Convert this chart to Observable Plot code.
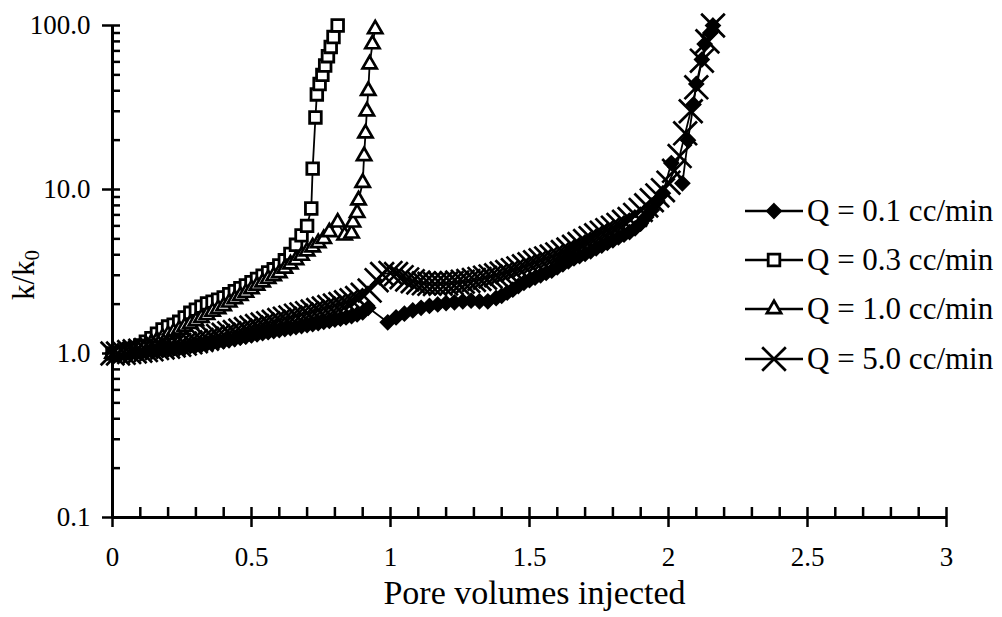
<!DOCTYPE html>
<html><head><meta charset="utf-8">
<script src="https://cdn.jsdelivr.net/npm/d3@7"></script>
<script src="https://cdn.jsdelivr.net/npm/@observablehq/plot@0.6"></script>
<style>
body{margin:0;background:#fff;}
#wrap{position:relative;width:1002px;height:617px;font-family:"Liberation Serif","Times New Roman",serif;color:#000;}
.leg{position:absolute;left:745px;top:186px;}
.row{display:flex;align-items:center;height:49.3px;}
.row span{font-size:31px;margin-left:4px;line-height:30px;white-space:nowrap;}
</style></head><body><div id="wrap"></div>
<script>
// Series: [pore volumes injected, k/k0]
const q01 = [[0,1.00],[0.02,1.00],[0.04,1.01],[0.06,1.01],[0.08,1.02],[0.10,1.02],[0.12,1.03],[0.14,1.04],[0.16,1.04],[0.18,1.05],[0.20,1.06],[0.22,1.07],[0.24,1.08],[0.26,1.09],[0.28,1.11],[0.30,1.12],[0.32,1.13],[0.34,1.15],[0.36,1.16],[0.38,1.18],[0.40,1.19],[0.42,1.21],[0.44,1.23],[0.46,1.25],[0.48,1.27],[0.50,1.29],[0.52,1.31],[0.54,1.33],[0.56,1.35],[0.58,1.37],[0.60,1.39],[0.62,1.41],[0.64,1.43],[0.66,1.45],[0.68,1.47],[0.70,1.49],[0.72,1.51],[0.74,1.53],[0.76,1.56],[0.78,1.58],[0.80,1.61],[0.82,1.63],[0.84,1.66],[0.86,1.69],[0.88,1.73],[0.90,1.78],[0.92,1.90],[0.99,1.55],[1.02,1.66],[1.05,1.75],[1.08,1.83],[1.11,1.90],[1.14,1.95],[1.17,1.99],[1.20,2.03],[1.23,2.05],[1.26,2.08],[1.29,2.10],[1.32,2.08],[1.35,2.08],[1.38,2.18],[1.40,2.25],[1.42,2.35],[1.44,2.45],[1.46,2.58],[1.48,2.70],[1.50,2.80],[1.52,2.90],[1.54,3.00],[1.56,3.10],[1.58,3.20],[1.60,3.35],[1.62,3.50],[1.64,3.65],[1.66,3.80],[1.68,3.92],[1.70,4.05],[1.72,4.20],[1.74,4.38],[1.76,4.55],[1.78,4.72],[1.80,4.90],[1.82,5.10],[1.84,5.30],[1.86,5.50],[1.88,5.80],[1.90,6.20],[1.92,6.80],[1.94,7.50],[1.96,8.50],[1.98,9.50],[2.01,14.5],[2.05,10.9],[2.07,20],[2.09,33],[2.10,44],[2.12,62],[2.13,77],[2.15,90],[2.16,100]];
const q03 = [[0,1.00],[0.02,1.01],[0.04,1.03],[0.06,1.05],[0.08,1.08],[0.10,1.12],[0.12,1.18],[0.14,1.24],[0.16,1.32],[0.18,1.40],[0.20,1.46],[0.22,1.50],[0.24,1.56],[0.26,1.66],[0.28,1.77],[0.30,1.85],[0.32,1.93],[0.34,2.02],[0.36,2.07],[0.38,2.13],[0.40,2.20],[0.42,2.30],[0.44,2.40],[0.46,2.50],[0.48,2.60],[0.50,2.72],[0.52,2.85],[0.54,2.98],[0.56,3.12],[0.58,3.26],[0.60,3.44],[0.62,3.70],[0.64,4.05],[0.66,4.60],[0.68,5.25],[0.70,6.00],[0.715,7.66],[0.72,13.4],[0.73,27.5],[0.735,38],[0.745,44],[0.755,50],[0.765,57],[0.775,65],[0.785,74],[0.795,85],[0.81,100]];
const q10 = [[0,1.00],[0.02,1.01],[0.04,1.02],[0.06,1.04],[0.08,1.06],[0.10,1.09],[0.12,1.12],[0.14,1.16],[0.16,1.20],[0.18,1.25],[0.20,1.30],[0.22,1.35],[0.24,1.40],[0.26,1.46],[0.28,1.52],[0.30,1.58],[0.32,1.65],[0.34,1.72],[0.36,1.80],[0.38,1.87],[0.40,1.95],[0.42,2.05],[0.44,2.15],[0.46,2.25],[0.48,2.35],[0.50,2.47],[0.52,2.60],[0.54,2.72],[0.56,2.85],[0.58,2.97],[0.60,3.10],[0.62,3.30],[0.64,3.50],[0.66,3.72],[0.68,3.95],[0.70,4.20],[0.72,4.45],[0.74,4.72],[0.76,5.00],[0.78,5.50],[0.81,6.30],[0.835,5.25],[0.86,5.40],[0.865,6.30],[0.88,7.20],[0.885,8.60],[0.90,11.0],[0.905,16],[0.91,22],[0.915,30],[0.92,40],[0.925,58],[0.935,77],[0.945,95]];
const q50 = [[0,1.00],[0.02,1.00],[0.04,1.01],[0.06,1.02],[0.08,1.03],[0.10,1.04],[0.12,1.05],[0.14,1.06],[0.16,1.08],[0.18,1.09],[0.20,1.10],[0.22,1.12],[0.24,1.13],[0.26,1.15],[0.28,1.17],[0.30,1.19],[0.32,1.21],[0.34,1.23],[0.36,1.26],[0.38,1.28],[0.40,1.30],[0.42,1.33],[0.44,1.35],[0.46,1.38],[0.48,1.41],[0.50,1.44],[0.52,1.47],[0.54,1.50],[0.56,1.53],[0.58,1.56],[0.60,1.60],[0.62,1.63],[0.64,1.66],[0.66,1.70],[0.68,1.73],[0.70,1.76],[0.72,1.80],[0.74,1.84],[0.76,1.88],[0.78,1.92],[0.80,1.96],[0.82,2.00],[0.84,2.05],[0.86,2.11],[0.88,2.18],[0.90,2.28],[0.925,2.42],[0.95,2.80],[0.97,3.05],[1.00,3.10],[1.02,3.05],[1.04,2.92],[1.06,2.83],[1.08,2.76],[1.10,2.71],[1.12,2.68],[1.14,2.66],[1.16,2.65],[1.18,2.66],[1.20,2.67],[1.22,2.69],[1.24,2.71],[1.26,2.74],[1.28,2.77],[1.30,2.81],[1.32,2.85],[1.34,2.90],[1.36,2.95],[1.38,3.00],[1.40,3.07],[1.42,3.14],[1.44,3.22],[1.46,3.30],[1.48,3.40],[1.50,3.50],[1.52,3.60],[1.54,3.70],[1.56,3.80],[1.58,3.90],[1.60,4.02],[1.62,4.15],[1.64,4.30],[1.66,4.47],[1.68,4.65],[1.70,4.85],[1.72,5.05],[1.74,5.25],[1.76,5.45],[1.78,5.65],[1.80,5.85],[1.82,6.08],[1.84,6.35],[1.86,6.60],[1.88,7.00],[1.90,7.50],[1.92,8.00],[1.94,8.60],[1.96,9.20],[1.98,9.90],[2.00,11.0],[2.02,13.0],[2.04,16.0],[2.06,22.0],[2.08,30.0],[2.10,42],[2.12,61],[2.14,80],[2.16,100]];

const seriesNames = ["Q = 0.1 cc/min","Q = 0.3 cc/min","Q = 1.0 cc/min","Q = 5.0 cc/min"];
const yTicks = [0.1, 1, 10, 100];
const yTickLabels = ["0.1","1.0","10.0","100.0"];
const xTicks = [0, 0.5, 1, 1.5, 2, 2.5, 3];
const xTickLabels = ["0","0.5","1","1.5","2","2.5","3"];
const xTitle = "Pore volumes injected";

const styles = [
  {symbol:"diamond2", fill:"black", r:6.6, sw:1.5, d3sym:d3.symbolDiamond2},
  {symbol:"square2", fill:"white", r:7.4, sw:2.8, d3sym:d3.symbolSquare2},
  {symbol:"triangle2", fill:"white", r:6.8, sw:2.7, d3sym:d3.symbolTriangle2},
  {symbol:"times", fill:"none", r:10.8, sw:2.7, d3sym:d3.symbolTimes}
];
const allSeries = [q01, q03, q10, q50];

const yMinor = [2,3,4,5,6,7,8,9].flatMap(k => [0.1,1,10].map(d => k*d));
const xMinor = d3.range(1, 30).map(i => i/10).filter(v => Math.abs(v*2 - Math.round(v*2)) > 1e-6);

const marks = [];
allSeries.forEach((data, i) => {
  const s = styles[i];
  marks.push(Plot.line(data, {x: d => d[0], y: d => d[1], stroke: "black", strokeWidth: 1.8}));
  marks.push(Plot.dot(data, {x: d => d[0], y: d => d[1], symbol: s.symbol, r: s.r, fill: s.fill, stroke: "black", strokeWidth: s.sw}));
});

const chart = Plot.plot({
  width: 1002, height: 617,
  marginLeft: 112, marginRight: 56, marginTop: 25, marginBottom: 100,
  style: {fontFamily: '"Liberation Serif","Times New Roman",serif', fontSize: "27px", color: "#000", background: "#fff"},
  x: {domain: [0, 3]},
  y: {type: "log", domain: [0.1, 100]},
  marks: [
    ...marks,
    Plot.ruleX([0], {y1: 0.1, y2: 100, strokeWidth: 3, stroke: "black"}),
    Plot.ruleY([0.1], {x1: 0, x2: 3, strokeWidth: 3, stroke: "black"}),
    Plot.axisY({ticks: yTicks, tickSize: 18, dx: 8, fill: "none", strokeWidth: 2.5, label: null}),
    Plot.axisY({ticks: yMinor, tickSize: 8, dx: 8, fill: "none", strokeWidth: 2.5, label: null}),
    Plot.axisY({ticks: yTicks, tickSize: 0, tickPadding: 22, stroke: "none", fontSize: 27, label: null,
      tickFormat: d => yTickLabels[yTicks.indexOf(d)]}),
    Plot.axisX({ticks: xTicks, tickSize: 20, dy: -10, fill: "none", strokeWidth: 2.5, label: null}),
    Plot.axisX({ticks: xMinor, tickSize: 10, dy: -10, fill: "none", strokeWidth: 2.5, label: null}),
    Plot.axisX({ticks: xTicks, tickSize: 0, tickPadding: 29, stroke: "none", fontSize: 27, label: null,
      tickFormat: d => xTickLabels[xTicks.indexOf(d)]}),
    Plot.text([xTitle], {frameAnchor: "bottom", dy: 86, dx: 5, fontSize: 34, fill: "black"})
  ]
});

const wrap = document.getElementById("wrap");
wrap.appendChild(chart);

// y-axis title with subscript
const svg = d3.select(chart);
const yl = svg.append("text")
  .attr("transform", "translate(34,275) rotate(-90)")
  .attr("text-anchor", "middle")
  .attr("font-size", 31)
  .attr("fill", "black");
yl.append("tspan").text("k/k");
yl.append("tspan").attr("font-size", 21).attr("dy", 5).text("0");

// legend
const leg = document.createElement("div");
leg.className = "leg";
seriesNames.forEach((name, i) => {
  const s = styles[i];
  const row = document.createElement("div");
  row.className = "row";
  const ns = "http://www.w3.org/2000/svg";
  const sv = document.createElementNS(ns, "svg");
  sv.setAttribute("width", 58); sv.setAttribute("height", 30);
  const ln = document.createElementNS(ns, "line");
  ln.setAttribute("x1", 0); ln.setAttribute("x2", 58); ln.setAttribute("y1", 15); ln.setAttribute("y2", 15);
  ln.setAttribute("stroke", "black"); ln.setAttribute("stroke-width", 2.5);
  sv.appendChild(ln);
  const p = document.createElementNS(ns, "path");
  p.setAttribute("d", d3.symbol(s.d3sym, Math.PI * s.r * s.r)());
  p.setAttribute("transform", "translate(29,15)");
  p.setAttribute("fill", s.fill); p.setAttribute("stroke", "black"); p.setAttribute("stroke-width", s.sw);
  sv.appendChild(p);
  row.appendChild(sv);
  const t = document.createElement("span");
  t.textContent = name;
  row.appendChild(t);
  leg.appendChild(row);
});
wrap.appendChild(leg);
</script></body></html>
